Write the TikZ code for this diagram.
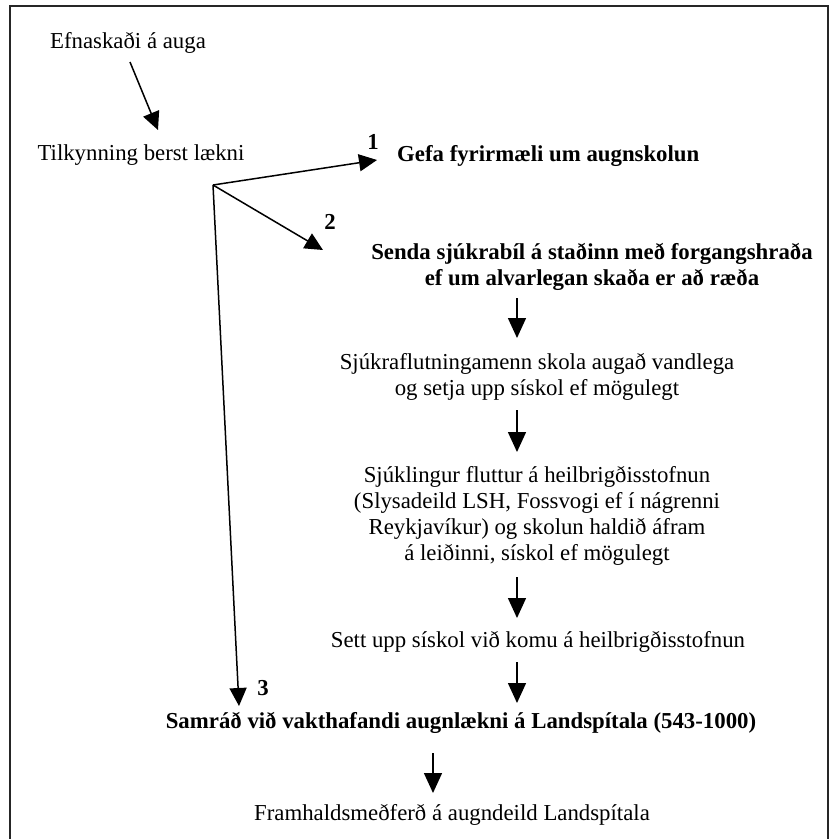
\documentclass[tikz,border=0pt]{standalone}
\usepackage{fontspec}
\setmainfont{Liberation Serif}
\usetikzlibrary{arrows.meta}
\begin{document}
\begin{tikzpicture}[x=1pt,y=-1pt,
  txt/.style={inner sep=0pt, align=center, font={\fontsize{22.8}{26}\selectfont}},
  btxt/.style={txt, font={\fontsize{22.8}{26}\selectfont\bfseries}},
  arr/.style={line width=1.5pt, -{Triangle[length=18pt,width=17pt]}},
  varr/.style={line width=1.5pt, -{Triangle[length=20pt,width=18pt]}},
  frame/.style={line width=2pt, draw=black!85}]
\useasboundingbox (0,0) rectangle (833,839);
\fill[white] (0,0) rectangle (833,839);
\draw[frame] (10,840) -- (10,6) -- (828,6) -- (828,840);

% texts
\node[txt] (efna) at (128,43) {Efnaskaði á auga};
\node[txt] (tilk) at (141,155) {Tilkynning berst lækni};
\node[btxt, anchor=west] (gefa) at (397,156) {Gefa fyrirmæli um augnskolun};
\node[btxt] (senda) at (592,266.5) {Senda sjúkrabíl á staðinn með forgangshraða\\ef um alvarlegan skaða er að ræða};
\node[txt] (sjukra) at (537,376.5) {Sjúkraflutningamenn skola augað vandlega\\og setja upp sískol ef mögulegt};
\node[txt] (sjukl) at (537,516) {Sjúklingur fluttur á heilbrigðisstofnun\\(Slysadeild LSH, Fossvogi ef í nágrenni\\Reykjavíkur) og skolun haldið áfram\\á leiðinni, sískol ef mögulegt};
\node[txt] (sett) at (538,642) {Sett upp sískol við komu á heilbrigðisstofnun};
\node[btxt] (samrad) at (461,723) {Samráð við vakthafandi augnlækni á Landspítala (543-1000)};
\node[txt] (fram) at (452,815) {Framhaldsmeðferð á augndeild Landspítala};

% branch labels
\node[btxt] (n1) at (373,142) {1};
\node[btxt] (n2) at (330,222) {2};
\node[btxt] (n3) at (263,688) {3};

% connector end points
\coordinate (efnaout) at (130,62);
\coordinate (tilkin) at (158,130);
\coordinate (br) at (213,185);
\coordinate (gefain) at (377,160);
\coordinate (sendain) at (323,250);
\coordinate (samradin) at (239,706);
\coordinate (sendaout) at (517,298);
\coordinate (sjukrain) at (517,338);
\coordinate (sjukraout) at (517,410);
\coordinate (sjuklin) at (517,452);
\coordinate (sjuklout) at (517,577);
\coordinate (settin) at (517,618);
\coordinate (settout) at (517,662);
\coordinate (samradin2) at (517,703);
\coordinate (samradout) at (433,753);
\coordinate (framin) at (433,793);

% connectors
\draw[arr] (efnaout) -- (tilkin);
\draw[arr] (br) -- (gefain);
\draw[arr] (br) -- (sendain);
\draw[arr] (br) -- (samradin);
\draw[varr] (sendaout) -- (sjukrain);
\draw[varr] (sjukraout) -- (sjuklin);
\draw[varr] (sjuklout) -- (settin);
\draw[varr] (settout) -- (samradin2);
\draw[varr] (samradout) -- (framin);
\end{tikzpicture}
\end{document}
